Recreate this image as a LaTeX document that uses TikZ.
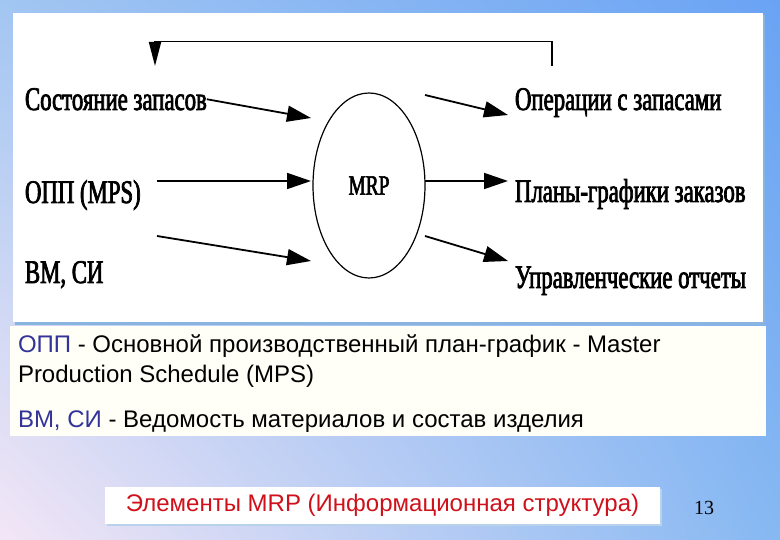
\documentclass[tikz,border=0pt]{standalone}
\usepackage{fontspec}
\setmainfont{Liberation Sans}
\newfontfamily\figfont[FakeStretch=0.69,FakeBold=2.2]{Liberation Serif}
\newfontfamily\numfont{Liberation Serif}
\usetikzlibrary{shapes.geometric,arrows.meta,shadings}
\definecolor{bgTL}{HTML}{A2C6F2}
\definecolor{bgTR}{HTML}{6AA3F4}
\definecolor{bgBL}{HTML}{F3E6F6}
\definecolor{bgBR}{HTML}{86B8F2}
\definecolor{legendfill}{HTML}{FFFFF8}
\definecolor{shadowblue}{HTML}{8AB4E0}
\definecolor{abbrblue}{HTML}{333399}
\definecolor{captionred}{HTML}{D0101A}

\begin{document}
\begin{tikzpicture}[x=1pt,y=-1pt]
        \tikzstyle{every node}=[inner sep=0pt, outer sep=0pt]
        \tikzstyle{lbl}=[anchor=base west, font=\figfont\fontsize{33}{33}\selectfont]
        \tikzstyle{flow}=[line width=1.8pt, -{Triangle[length=24pt,width=16pt]}]
        \tikzstyle{legend}=[anchor=base west, font=\fontsize{24}{24}\selectfont]
        % background and panels
        \shade[upper left=bgTL, upper right=bgTR, lower left=bgBL, lower right=bgBR] (0,0) rectangle (780,540);
        \useasboundingbox (0,0) rectangle (780,540);
        \fill[shadowblue] (15,15) rectangle (765,325);
        \fill[white] (13,13) rectangle (763,322);
        \fill[legendfill] (10,326) rectangle (766,436);
        \fill[shadowblue!60] (107,489) rectangle (662,526);
        \fill[white] (105,487) rectangle (660,524);
        % diagram
        \node [draw, ellipse, line width=1.2pt, minimum width=112pt, minimum height=185pt, font=\figfont\fontsize{28}{28}\selectfont] (mrp) at (369,185.5) {MRP};
        \node [lbl] (stock) at (25,110) {Состояние запасов};
        \node [lbl] (mps) at (25,203) {ОПП (MPS)};
        \node [lbl] (bom) at (25,283) {ВМ, СИ};
        \node [lbl] (ops) at (515,110) {Операции с запасами};
        \node [lbl] (plans) at (515,202) {Планы-графики заказов};
        \node [lbl] (reports) at (515,288) {Управленческие отчеты};
        \coordinate (in1) at (311,118);
        \coordinate (in2s) at (157,181);
        \coordinate (in2) at (311,181);
        \coordinate (in3s) at (157,236);
        \coordinate (in3) at (311,261);
        \coordinate (out1s) at (425,95);
        \coordinate (out1) at (508,115);
        \coordinate (out2s) at (425,181);
        \coordinate (out2) at (508,181);
        \coordinate (out3s) at (425,236);
        \coordinate (out3) at (508,261);
        \coordinate (fbs) at (552,66);
        \coordinate (fbe) at (155,66);
        \draw[flow] (stock.east) -- (in1);
        \draw[flow] (in2s) -- (in2);
        \draw[flow] (in3s) -- (in3);
        \draw[flow] (out1s) -- (out1);
        \draw[flow] (out2s) -- (out2);
        \draw[flow] (out3s) -- (out3);
        \draw[line width=1.8pt, -{Triangle[length=24pt,width=12pt]}] (fbs) -- ++(0,-24.5) -| (fbe);
        % legend
        \node [legend] (leg1) at (18,353) {\textcolor{abbrblue}{ОПП} - Основной производственный план-график - Master};
        \node [legend] (leg2) at (18,383) {Production Schedule (MPS)};
        \node [legend] (leg3) at (18,427) {\textcolor{abbrblue}{ВМ, СИ} - Ведомость материалов и состав изделия};
        \node [font=\fontsize{24}{24}\selectfont, text=captionred] (caption) at (382.5,505.5) {Элементы MRP (Информационная структура)};
        \node [font=\numfont\fontsize{20}{20}\selectfont] (page) at (704,508) {13};
\end{tikzpicture}
\end{document}
